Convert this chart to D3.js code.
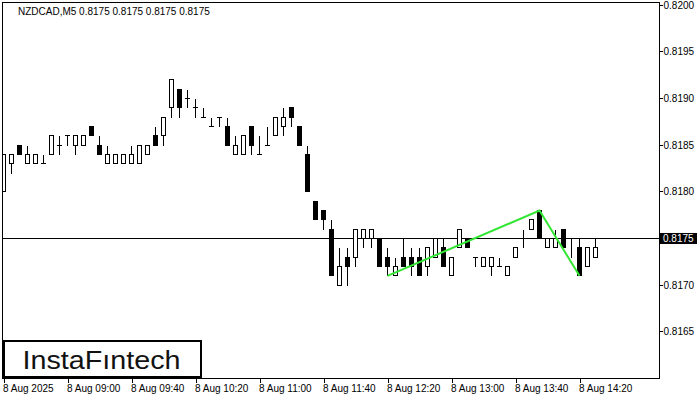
<!DOCTYPE html>
<html><head><meta charset="utf-8">
<script src="https://cdn.jsdelivr.net/npm/d3@7"></script>
<style>
body{margin:0;background:#fff}
svg{display:block}
text{font-family:"Liberation Sans",Arial,sans-serif}
</style>
</head><body>
<svg id="c" width="700" height="400"></svg>
<script>
const chartTitle = "NZDCAD,M5  0.8175 0.8175 0.8175 0.8175";
const startTime = new Date(2025, 7, 8, 8, 20);
const barMinutes = 5;
const opens  = [0.8180,0.8183,0.8185,0.8183,0.8183,0.8183,0.8184,0.8185,0.8186,0.8185,0.8185,0.8187,0.8185,0.8183,0.8183,0.8183,0.8183,0.8183,0.8184,0.8186,
                0.8186,0.8189,0.8191,0.8190,0.8189,0.8188,0.8187,0.8188,0.8187,0.8184,0.8184,0.8187,0.8184,0.8185,0.8186,0.8187,0.8189,0.8187,0.8184,0.8179,
                0.8178,0.8176,0.8170,0.8173,0.8173,0.8175,0.8175,0.8175,0.8173,0.8171,0.8173,0.8173,0.8173,0.8172,0.8173,0.8174,0.8171,0.8174,0.8175,0.8173,
                0.8172,0.8172,0.8172,0.8171,0.8173,0.8175,0.8176,0.8178,0.8174,0.8174,0.8176,0.8175,0.8174,0.8172,0.8173,0.8175];
const highs  = [0.8184,0.8184,0.8185,0.8185,0.8184,0.8184,0.8186,0.8186,0.8186,0.8186,0.8186,0.8187,0.8186,0.8185,0.8184,0.8184,0.8185,0.8185,0.8185,0.8187,
                0.8188,0.8192,0.8191,0.8191,0.8190,0.8189,0.8188,0.8188,0.8188,0.8186,0.8186,0.8187,0.8186,0.8187,0.8188,0.8189,0.8189,0.8187,0.8185,0.8179,
                0.8178,0.8177,0.8174,0.8174,0.8176,0.8176,0.8176,0.8175,0.8174,0.8173,0.8175,0.8174,0.8174,0.8174,0.8175,0.8175,0.8173,0.8176,0.8175,0.8173,
                0.8173,0.8173,0.8173,0.8172,0.8174,0.8176,0.8177,0.8178,0.8175,0.8176,0.8176,0.8175,0.8175,0.8174,0.8175,0.8175];
const lows   = [0.8180,0.8182,0.8184,0.8183,0.8183,0.8183,0.8184,0.8184,0.8185,0.8184,0.8185,0.8186,0.8184,0.8183,0.8183,0.8183,0.8183,0.8183,0.8184,0.8185,
                0.8185,0.8188,0.8188,0.8189,0.8188,0.8188,0.8187,0.8187,0.8185,0.8184,0.8184,0.8184,0.8184,0.8185,0.8186,0.8186,0.8187,0.8185,0.8180,0.8177,
                0.8176,0.8171,0.8170,0.8170,0.8172,0.8174,0.8174,0.8172,0.8171,0.8171,0.8172,0.8171,0.8171,0.8171,0.8173,0.8172,0.8171,0.8174,0.8174,0.8172,
                0.8172,0.8171,0.8172,0.8171,0.8173,0.8174,0.8176,0.8175,0.8174,0.8174,0.8174,0.8173,0.8171,0.8172,0.8173,0.8175];
const closes = [0.8184,0.8184,0.8184,0.8184,0.8184,0.8183,0.8186,0.8185,0.8186,0.8186,0.8186,0.8186,0.8184,0.8184,0.8184,0.8184,0.8184,0.8185,0.8185,0.8185,
                0.8188,0.8192,0.8189,0.8190,0.8189,0.8188,0.8187,0.8188,0.8185,0.8185,0.8186,0.8185,0.8184,0.8185,0.8188,0.8188,0.8188,0.8185,0.8180,0.8177,
                0.8177,0.8171,0.8172,0.8172,0.8176,0.8176,0.8176,0.8172,0.8172,0.8172,0.8172,0.8172,0.8171,0.8174,0.8175,0.8172,0.8173,0.8176,0.8174,0.8173,
                0.8173,0.8173,0.8172,0.8172,0.8174,0.8175,0.8177,0.8175,0.8175,0.8175,0.8174,0.8175,0.8171,0.8174,0.8174,0.8175];
const priceTicks = [0.8165,0.8170,0.8175,0.8180,0.8185,0.8190,0.8195,0.8200];
const timeTickLabels = ["8 Aug 2025","8 Aug 09:00","8 Aug 09:40","8 Aug 10:20","8 Aug 11:00","8 Aug 11:40","8 Aug 12:20","8 Aug 13:00","8 Aug 13:40","8 Aug 14:20"];
const timeTickEveryMinutes = 40;
const currentPrice = 0.8175;
const patternBars = [48, 67, 72];
const patternPrices = [0.8171, 0.8178, 0.8171];
const logoText = "InstaF\u0131ntech";

const svg = d3.select("#c");
const crisp = v => Math.floor(v) + 0.5;
const barTime = i => new Date(startTime.getTime() + i * barMinutes * 60000);
const nBars = 82;
const x = d3.scaleTime().domain([startTime, barTime(nBars)]).range([3.5, 3.5 + 8 * nBars]);
const y = d3.scaleLinear().domain([0.8160, 0.8200]).range([378.5, 5.17]);

const bars = opens.map((o, i) => ({t: barTime(i), o, h: highs[i], l: lows[i], c: closes[i]}));

svg.append("defs").append("clipPath").attr("id", "plot")
  .append("rect").attr("x", 3).attr("y", 3).attr("width", 656).attr("height", 375);

// title
svg.append("text").attr("x", 18).attr("y", 15).attr("font-size", 10).attr("fill", "#000").text(chartTitle);

const plot = svg.append("g").attr("clip-path", "url(#plot)");

// current price line
plot.append("line").attr("x1", 3).attr("x2", 659)
  .attr("y1", crisp(y(currentPrice))).attr("y2", crisp(y(currentPrice)))
  .attr("stroke", "#000").attr("stroke-width", 1);

const g = plot.selectAll("g.bar").data(bars).join("g").attr("class", "bar");
g.append("line")
  .attr("x1", d => x(d.t)).attr("x2", d => x(d.t))
  .attr("y1", d => crisp(y(d.h))).attr("y2", d => crisp(y(d.l)) + 0.5)
  .attr("stroke", "#000").attr("stroke-width", 1)
  .attr("shape-rendering", "crispEdges");
g.each(function(d) {
  const sel = d3.select(this);
  const top = crisp(y(Math.max(d.o, d.c)));
  const bot = crisp(y(Math.min(d.o, d.c)));
  const cx = x(d.t);
  if (top === bot) {
    sel.append("line").attr("x1", cx - 2.5).attr("x2", cx + 2.5).attr("y1", top).attr("y2", top)
      .attr("stroke", "#000").attr("stroke-width", 1).attr("shape-rendering", "crispEdges");
  } else {
    sel.append("rect").attr("x", cx - 2).attr("y", top).attr("width", 4).attr("height", bot - top)
      .attr("fill", d.c < d.o ? "#000" : "#fff").attr("stroke", "#000").attr("stroke-width", 1)
      .attr("shape-rendering", "crispEdges");
  }
});

// pattern line
const pts = patternBars.map((b, i) => [x(barTime(b)), y(patternPrices[i])]);
plot.append("path").attr("d", d3.line()(pts)).attr("fill", "none")
  .attr("stroke", "#33e633").attr("stroke-width", 2);

// border
svg.append("rect").attr("x", 2.5).attr("y", 2.5).attr("width", 657).attr("height", 376)
  .attr("fill", "none").attr("stroke", "#000").attr("stroke-width", 1);

// right axis
const ra = svg.append("g").attr("transform", "translate(659.5,0)")
  .call(d3.axisRight(y).tickValues(priceTicks).tickSize(3).tickPadding(1).tickFormat(d3.format(".4f")));
ra.select(".domain").remove();
ra.attr("font-family", null).attr("font-size", null);
ra.selectAll("text").attr("font-size", 10).attr("fill", "#000").attr("dy", "0.35em");
ra.selectAll("line").attr("stroke", "#000").attr("shape-rendering", "crispEdges");
ra.selectAll(".tick").attr("transform", d => `translate(0,${crisp(y(d))})`);

// current price tag
const cy = crisp(y(currentPrice));
svg.append("rect").attr("x", 659).attr("y", cy - 5.5).attr("width", 38).attr("height", 11).attr("fill", "#000");
svg.append("text").attr("x", 663).attr("y", cy).attr("dy", "0.35em").attr("font-size", 10).attr("fill", "#fff")
  .text(d3.format(".4f")(currentPrice));

// bottom axis
const tickTimes = timeTickLabels.map((_, i) => new Date(startTime.getTime() + i * timeTickEveryMinutes * 60000));
const ba = svg.append("g").attr("transform", "translate(0,378.5)")
  .call(d3.axisBottom(x).tickValues(tickTimes).tickSize(4).tickFormat((d, i) => timeTickLabels[i]));
ba.select(".domain").remove();
ba.attr("font-family", null).attr("font-size", null);
ba.selectAll("line").attr("stroke", "#000").attr("shape-rendering", "crispEdges");
ba.selectAll("text").attr("font-size", 10).attr("fill", "#000").attr("text-anchor", "start")
  .attr("x", -1).attr("y", 13.5).attr("dy", null);

// logo
svg.append("rect").attr("x", 4).attr("y", 341).attr("width", 197).attr("height", 36)
  .attr("fill", "#fff").attr("stroke", "#000").attr("stroke-width", 2);
svg.append("text").attr("x", 22.5).attr("y", 368.5).attr("font-size", 25)
  .attr("font-family", "Inter, 'Open Sans', sans-serif").attr("font-weight", 500)
  .attr("fill", "#111").attr("textLength", 158).attr("lengthAdjust", "spacingAndGlyphs")
  .text(logoText);
</script>
</body></html>
